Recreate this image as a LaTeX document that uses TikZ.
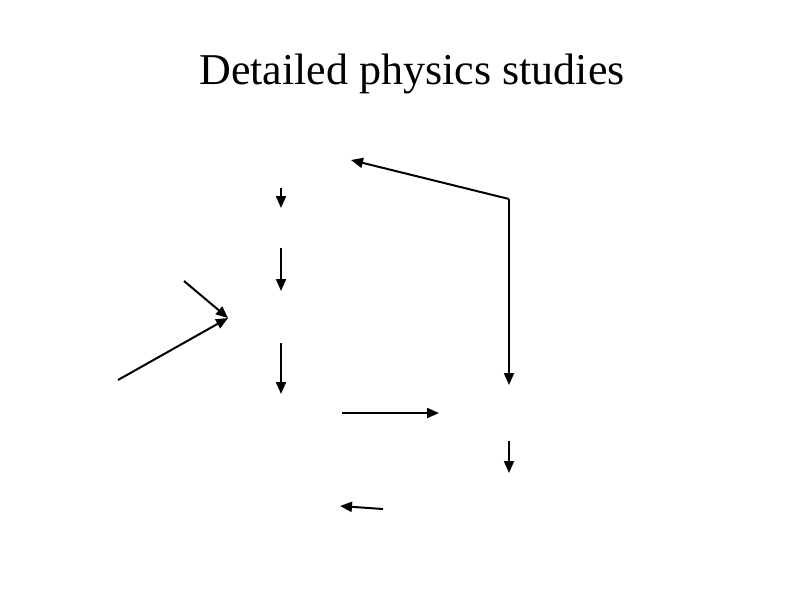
\documentclass[tikz,border=0pt]{standalone}
\usepackage{fontspec}
\setmainfont{Liberation Serif}
\usetikzlibrary{arrows.meta,positioning,calc}

\begin{document}
\begin{tikzpicture}[
    x=1pt, y=-1pt,
    title/.style={anchor=base, inner sep=0pt, font=\fontsize{44}{48}\selectfont},
    flow/.style={-{Triangle[length=12pt, width=10pt]}, line width=2pt}
]
\useasboundingbox (0,0) rectangle (794,595);
\node[title] (ttl) at (412,84) {Detailed physics studies};
% column on the left
\coordinate (a1) at (281,188); \coordinate (a2) at (281,208);
\coordinate (b1) at (281,248); \coordinate (b2) at (281,291);
\coordinate (c1) at (281,343); \coordinate (c2) at (281,394);
% two lines meeting on the left
\coordinate (m1) at (184,281); \coordinate (m2) at (118,380);
\coordinate (mt) at (228,318);
% elbow on the right
\coordinate (k)  at (509,199);
\coordinate (k1) at (351,160); \coordinate (k2) at (509,385);
\coordinate (r1) at (509,441); \coordinate (r2) at (509,473);
% bottom row
\coordinate (h1) at (342,413); \coordinate (h2) at (439,413);
\coordinate (l1) at (383,509); \coordinate (l2) at (340,506);
\draw[flow] (a1)--(a2); \draw[flow] (b1)--(b2); \draw[flow] (c1)--(c2);
\draw[flow] (m1)--(mt); \draw[flow] (m2)--(mt);
\draw[flow] (k)--(k1); \draw[flow] (k)--(k2); \draw[flow] (r1)--(r2);
\draw[flow] (h1)--(h2); \draw[flow] (l1)--(l2);
\end{tikzpicture}
\end{document}
